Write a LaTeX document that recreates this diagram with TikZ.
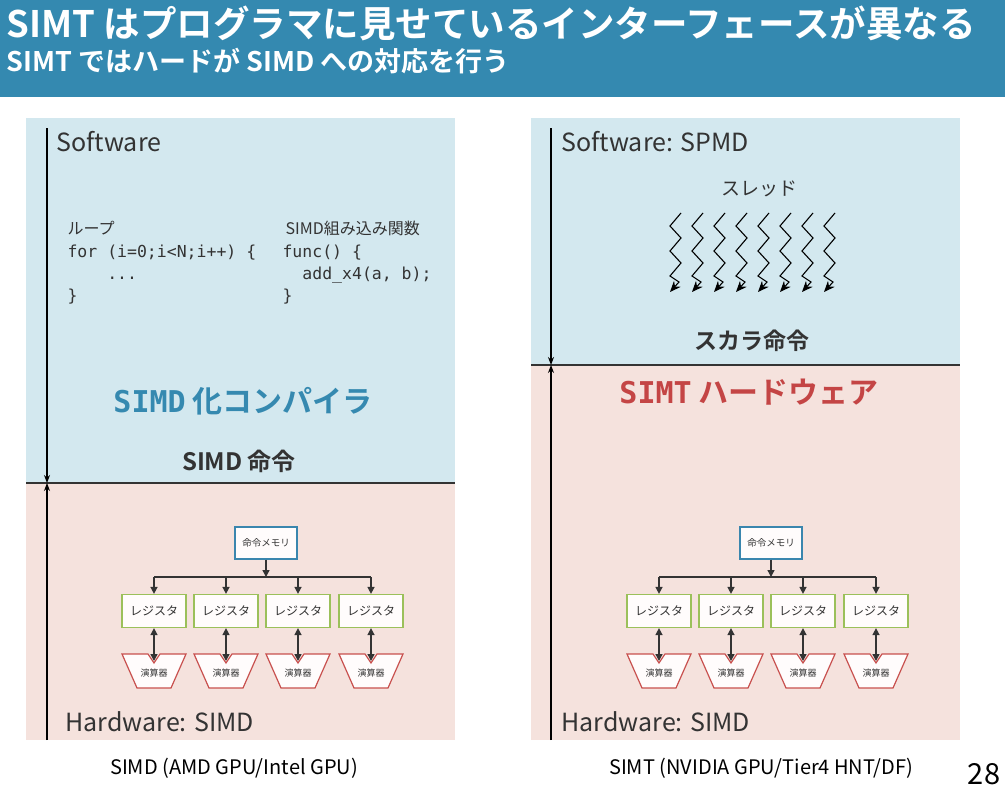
\documentclass[tikz,border=0pt]{standalone}
\usepackage{fontspec}
\setmainfont{Noto Sans CJK JP}
\newfontfamily\jbold{Noto Sans CJK JP Bold}
\setmonofont{DejaVu Sans Mono}
\usetikzlibrary{arrows.meta}
\definecolor{bar}{HTML}{3489B0}
\definecolor{pblue}{HTML}{D3E8EF}
\definecolor{ppink}{HTML}{F5E2DD}
\definecolor{sblue}{HTML}{3589B0}
\definecolor{sred}{HTML}{C44545}
\definecolor{tg}{HTML}{333333}
\definecolor{membd}{HTML}{3A86AE}
\definecolor{regbd}{HTML}{9BC05A}
\definecolor{alubd}{HTML}{C8504E}
\tikzset{
 mem/.style={draw=membd,line width=1.2pt,fill=white!95!pink,minimum width=62pt,minimum height=32pt,font=\fontsize{9.5}{10}\selectfont,text=tg},
 reg/.style={draw=regbd,line width=1.2pt,fill=white!95!pink,minimum width=64pt,minimum height=33pt,font=\fontsize{12}{13}\selectfont,text=tg},
 arr/.style={-{Triangle[length=7pt,width=7pt]},line width=1.4pt,draw=tg},
 darr/.style={{Triangle[length=7pt,width=7pt]}-{Triangle[length=7pt,width=7pt]},line width=1.4pt,draw=tg},
 axis/.style={line width=1.2pt,-{Stealth[length=8pt]}},
 lbl/.style={anchor=west,font=\fontsize{25}{28}\selectfont,text=tg},
}
\newcommand{\simdunit}[2]{%
 \begin{scope}[shift={(#1,0)}]
 \node[mem] (m#2) at (266,543) {命令メモリ};
 \foreach \x [count=\i] in {154,226,298,371}{
   \node[reg] (r#2\i) at (\x,611) {レジスタ};
   \coordinate (t#2\i) at (\x,577);
   \draw[alubd,line width=1.2pt,fill=white!95!pink] (\x-32,654)--(\x-6,654)--(\x,663)--(\x+6,654)--(\x+32,654)--(\x+17,688)--(\x-17,688)--cycle;
   \node[font=\fontsize{9}{10}\selectfont,text=tg] (a#2\i) at (\x,673) {演算器};
   \coordinate (at#2\i) at (\x,661);
   \draw[darr] (r#2\i.south) -- (at#2\i);
   \draw[arr] (t#2\i) -- (r#2\i.north);
 }
 \draw[line width=1.4pt,tg] (t#21) -- (t#24);
 \draw[arr] (m#2.south) -- (266,577);
 \end{scope}}
\begin{document}
\begin{tikzpicture}[x=1pt,y=-1pt]
\useasboundingbox (0,0) rectangle (1005,792);
\fill[white] (0,0) rectangle (1005,792);
\fill[bar] (0,0) rectangle (1005,97);
\node[anchor=west,text=white,font=\jbold\fontsize{36.5}{40}\selectfont] (t1) at (3,23) {SIMT はプログラマに見せているインターフェースが異なる};
\node[anchor=west,text=white,font=\jbold\fontsize{27}{30}\selectfont] (t2) at (3,61) {SIMT ではハードが SIMD への対応を行う};
% left panel
\fill[pblue] (26,118) rectangle (455,483);
\fill[ppink] (26,483) rectangle (455,740);
\draw[tg,line width=1.4pt] (26,483) -- (455,483);
\coordinate (la) at (47,128); \coordinate (lb) at (47,483); \coordinate (lc) at (47,740);
\draw[axis] (la) -- (lb);
\draw[axis] (lc) -- (lb);
\node[lbl] (ls) at (53,142) {Software};
\node[lbl] (lh) at (62,722) {Hardware: SIMD};
\node[anchor=west,font=\fontsize{16}{18}\selectfont,text=tg] (loop) at (64,228) {ループ};
\node[anchor=north west,font=\ttfamily\fontsize{16.5}{22}\selectfont,text=tg,align=left] (code1) at (64,241) {for (i=0;i<N;i++) \{\\\ \ \ \ ...\\\}};
\node[anchor=west,font=\fontsize{16}{18}\selectfont,text=tg] (intr) at (282,228) {SIMD組み込み関数};
\node[anchor=north west,font=\ttfamily\fontsize{16.5}{22}\selectfont,text=tg,align=left] (code2) at (279,241) {func() \{\\\ \ add\_x4(a, b);\\\}};
\node[font=\jbold\fontsize{30}{34}\selectfont,text=sblue] (comp) at (243,401) {{\ttfamily\bfseries SIMD} 化コンパイラ};
\node[font=\jbold\fontsize{24}{27}\selectfont,text=tg] (sins) at (239,461) {SIMD 命令};
\simdunit{0}{L}
\node[font=\fontsize{20}{22}\selectfont] (cl) at (234,768) {SIMD (AMD GPU/Intel GPU)};
% right panel
\fill[pblue] (531,118) rectangle (960,365);
\fill[ppink] (531,365) rectangle (960,740);
\draw[tg,line width=1.4pt] (531,365) -- (960,365);
\coordinate (ra) at (551,128); \coordinate (rb) at (551,365); \coordinate (rc) at (551,740);
\draw[axis] (ra) -- (rb);
\draw[axis] (rc) -- (rb);
\node[lbl] (rs) at (558,142) {Software: SPMD};
\node[lbl] (rh) at (558,722) {Hardware: SIMD};
\node[font=\fontsize{19}{21}\selectfont,text=tg] (thr) at (759,189) {スレッド};
\foreach \x in {670,692,714,736,758,780,802,824}{
  \draw[line width=1.1pt,-{Stealth[length=11pt,width=9pt]}] (\x+11,213)--(\x,226)--(\x+11,238)--(\x,251)--(\x+11,263)--(\x,276)--(\x+9,282)--(\x,292);
}
\node[font=\jbold\fontsize{23}{26}\selectfont,text=tg] (scal) at (752,341) {スカラ命令};
\node[font=\jbold\fontsize{30}{34}\selectfont,text=sred] (hw) at (749,392) {{\ttfamily\bfseries SIMT} ハードウェア};
\simdunit{505}{R}
\node[font=\fontsize{20}{22}\selectfont] (cr) at (761,768) {SIMT (NVIDIA GPU/Tier4 HNT/DF)};
\node[font=\fontsize{29}{32}\selectfont] (pg) at (984,774) {28};
\end{tikzpicture}
\end{document}
